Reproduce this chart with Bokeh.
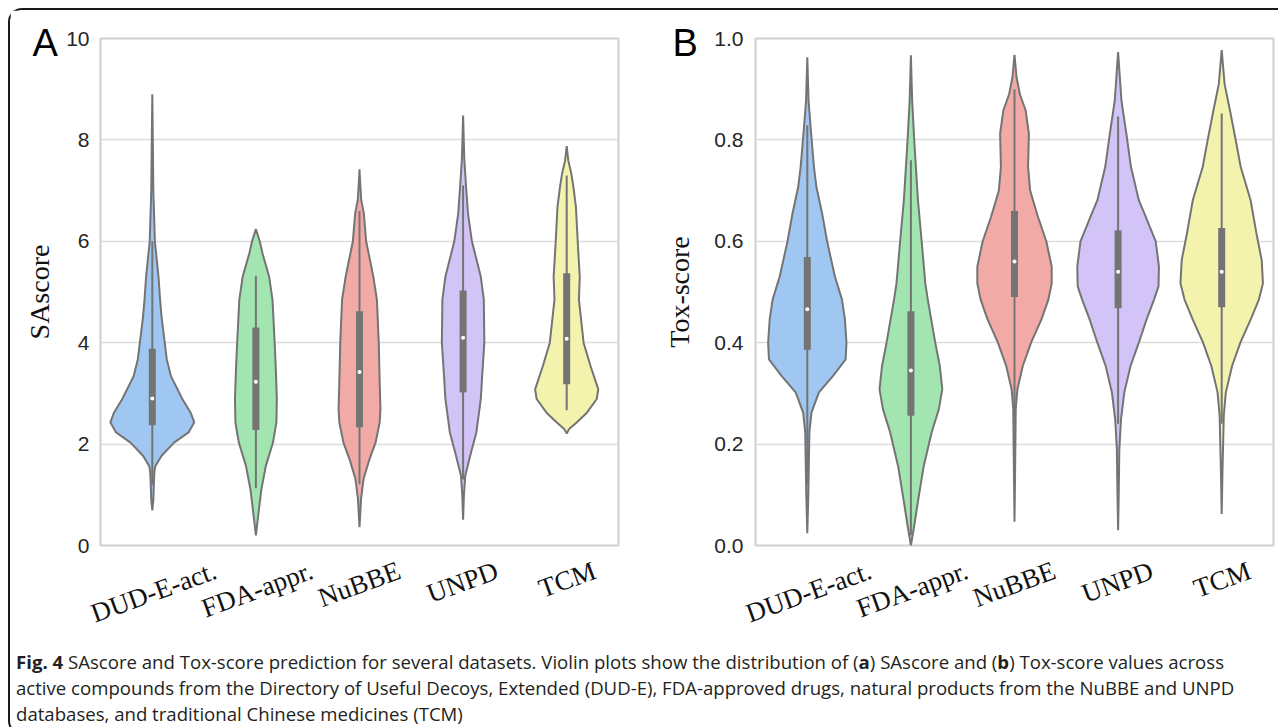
import math
from bokeh.plotting import figure
from bokeh.models import (Range1d, Div, FixedTicker, ColumnDataSource,
                          PrintfTickFormatter, Title)
from bokeh.layouts import row, column
from bokeh.embed import file_html
from bokeh.resources import INLINE

categories = ["DUD-E-act.", "FDA-appr.", "NuBBE", "UNPD", "TCM"]
colors = ["#a0c7f1", "#a2e5b0", "#f2aaa7", "#d3c4f7", "#f4f3ae"]

# ---- Panel A: SAscore violin profiles (value, half-width in category units)
sa_dud_y = [0.69, 0.9, 1.2, 1.45, 1.57, 1.77, 2.03, 2.23, 2.43, 2.62, 2.89, 3.34, 3.67, 4.0, 4.5, 4.85, 5.3, 6.0, 7.0, 8.0, 8.9]
sa_dud_w = [0.0, 0.01, 0.015, 0.02, 0.03, 0.09, 0.21, 0.35, 0.405, 0.37, 0.29, 0.18, 0.14, 0.12, 0.09, 0.075, 0.06, 0.025, 0.01, 0.005, 0.0]
sa_fda_y = [0.2, 0.66, 1.11, 1.57, 2.03, 2.43, 2.89, 3.5, 4.0, 4.85, 5.3, 5.76, 6.0, 6.24]
sa_fda_w = [0.0, 0.026, 0.053, 0.096, 0.165, 0.198, 0.202, 0.192, 0.181, 0.16, 0.128, 0.064, 0.037, 0.0]
sa_nub_y = [0.36, 0.92, 1.31, 1.7, 2.03, 2.43, 2.69, 3.2, 4.0, 4.85, 5.3, 6.0, 6.55, 6.81, 7.1, 7.42]
sa_nub_w = [0.0, 0.015, 0.039, 0.096, 0.155, 0.195, 0.202, 0.195, 0.186, 0.168, 0.134, 0.064, 0.042, 0.017, 0.008, 0.0]
sa_unpd_y = [0.51, 1.0, 1.38, 1.84, 2.23, 2.89, 3.34, 4.0, 4.85, 5.3, 6.0, 6.55, 7.07, 7.6, 8.48]
sa_unpd_w = [0.0, 0.008, 0.021, 0.077, 0.128, 0.171, 0.184, 0.205, 0.2, 0.171, 0.085, 0.047, 0.029, 0.012, 0.0]
sa_tcm_y = [2.21, 2.3, 2.43, 2.62, 2.89, 3.08, 3.54, 4.0, 4.85, 5.3, 6.0, 6.68, 7.07, 7.33, 7.6, 7.88]
sa_tcm_w = [0.0, 0.024, 0.098, 0.195, 0.29, 0.305, 0.23, 0.163, 0.118, 0.126, 0.106, 0.089, 0.065, 0.045, 0.015, 0.0]

sa_q1 = [2.37, 2.28, 2.33, 3.02, 3.18]
sa_med = [2.9, 3.23, 3.42, 4.1, 4.08]
sa_q3 = [3.88, 4.3, 4.62, 5.03, 5.37]
sa_lo = [1.2, 1.13, 1.21, 1.3, 2.67]
sa_hi = [6.0, 5.32, 6.6, 7.1, 7.3]

# ---- Panel B: Tox-score violin profiles
tx_dud_y = [0.024, 0.1, 0.223, 0.262, 0.302, 0.334, 0.367, 0.4, 0.446, 0.485, 0.53, 0.6, 0.655, 0.707, 0.747, 0.825, 0.878, 0.963]
tx_dud_w = [0.0, 0.01, 0.02, 0.04, 0.112, 0.247, 0.37, 0.378, 0.363, 0.335, 0.267, 0.191, 0.143, 0.088, 0.064, 0.032, 0.012, 0.0]
tx_fda_y = [0.0, 0.039, 0.092, 0.157, 0.223, 0.269, 0.308, 0.354, 0.4, 0.485, 0.517, 0.6, 0.681, 0.8, 0.878, 0.967]
tx_fda_w = [0.0, 0.032, 0.072, 0.124, 0.2, 0.27, 0.303, 0.279, 0.235, 0.163, 0.139, 0.104, 0.068, 0.032, 0.012, 0.0]
tx_nub_y = [0.047, 0.15, 0.269, 0.308, 0.354, 0.4, 0.446, 0.485, 0.517, 0.55, 0.6, 0.648, 0.7, 0.747, 0.812, 0.858, 0.89, 0.923, 0.968]
tx_nub_w = [0.0, 0.006, 0.012, 0.028, 0.08, 0.16, 0.26, 0.327, 0.359, 0.359, 0.307, 0.227, 0.151, 0.131, 0.139, 0.108, 0.052, 0.02, 0.0]
tx_unpd_y = [0.03, 0.1, 0.19, 0.249, 0.302, 0.354, 0.4, 0.446, 0.485, 0.511, 0.55, 0.6, 0.648, 0.681, 0.747, 0.812, 0.878, 0.973]
tx_unpd_w = [0.0, 0.006, 0.012, 0.028, 0.06, 0.12, 0.2, 0.275, 0.347, 0.39, 0.394, 0.363, 0.267, 0.2, 0.124, 0.08, 0.032, 0.0]
tx_tcm_y = [0.062, 0.15, 0.256, 0.302, 0.354, 0.4, 0.446, 0.485, 0.517, 0.563, 0.616, 0.681, 0.747, 0.8, 0.858, 0.91, 0.977]
tx_tcm_w = [0.0, 0.008, 0.02, 0.04, 0.1, 0.18, 0.28, 0.359, 0.398, 0.386, 0.335, 0.279, 0.183, 0.135, 0.08, 0.028, 0.0]

tx_q1 = [0.386, 0.256, 0.49, 0.468, 0.47]
tx_med = [0.466, 0.345, 0.56, 0.54, 0.54]
tx_q3 = [0.569, 0.462, 0.66, 0.622, 0.626]
tx_lo = [0.12, 0.02, 0.24, 0.24, 0.24]
tx_hi = [0.829, 0.76, 0.9, 0.846, 0.852]

sa_ticks = [0, 2, 4, 6, 8, 10]
tx_ticks = [0.0, 0.2, 0.4, 0.6, 0.8, 1.0]

caption = ("<b>Fig. 4</b> SAscore and Tox-score prediction for several datasets. Violin plots show the distribution of "
           "(<b>a</b>) SAscore and (<b>b</b>) Tox-score values across<br>active compounds from the Directory of Useful "
           "Decoys, Extended (DUD-E), FDA-approved drugs, natural products from the NuBBE and UNPD<br>databases, "
           "and traditional Chinese medicines (TCM)")

GRAY = "#747474"
FRAME_W, FRAME_H = 518, 507
# rotated tick labels are anchored at their right end: shift (px) from the category centre
LABEL_SHIFT_PX = [63, 56, 40, 34, 28]


def make_panel(letter, ylabel, ymax, ticks, fmt, profiles, q1, med, q3, lo, hi,
               border_left, border_right, letter_dx_px, ylabel_standoff, tick_standoff):
    n = len(categories)
    centers = [i + 0.5 for i in range(n)]
    p = figure(x_range=Range1d(0, n), y_range=Range1d(0, ymax),
               frame_width=FRAME_W, frame_height=FRAME_H,
               min_border_left=border_left, min_border_right=border_right,
               min_border_top=28, min_border_bottom=88,
               output_backend="svg", toolbar_location=None,
               background_fill_color="white", border_fill_color="white")
    p.outline_line_color = "#cfcfcf"
    p.outline_line_width = 2
    p.xgrid.visible = False
    p.ygrid.grid_line_color = "#dddddd"
    p.ygrid.grid_line_width = 1.5

    ax = p.yaxis[0]
    ax.ticker = FixedTicker(ticks=ticks)
    ax.formatter = PrintfTickFormatter(format=fmt)
    ax.axis_line_color = None
    ax.major_tick_line_color = None
    ax.minor_tick_line_color = None
    ax.major_label_text_font = "Liberation Sans"
    ax.major_label_text_font_size = "21px"
    ax.major_label_text_color = "#262626"
    ax.major_label_standoff = tick_standoff
    ax.axis_label = ylabel
    ax.axis_label_text_font = "Liberation Serif"
    ax.axis_label_text_font_size = "28px"
    ax.axis_label_text_font_style = "normal"
    ax.axis_label_text_color = "#111111"
    ax.axis_label_standoff = ylabel_standoff

    # category-name axis with rotated labels
    upx = n / FRAME_W
    pos = [round(c + s * upx, 4) for c, s in zip(centers, LABEL_SHIFT_PX)]
    xa = p.xaxis[0]
    xa.ticker = FixedTicker(ticks=pos)
    xa.major_label_overrides = {k: c for k, c in zip(pos, categories)}
    xa.major_label_orientation = math.radians(20)
    xa.axis_line_color = None
    xa.major_tick_line_color = None
    xa.minor_tick_line_color = None
    xa.major_label_standoff = 18
    xa.major_label_text_font = "Liberation Serif"
    xa.major_label_text_font_size = "27px"
    xa.major_label_text_color = "#111111"

    xs, ys = [], []
    for c, (vy, vw) in zip(centers, profiles):
        xs.append([c - w for w in vw] + [c + w for w in reversed(vw)])
        ys.append(list(vy) + list(reversed(vy)))
    src = ColumnDataSource(dict(xs=xs, ys=ys, color=colors))
    p.patches(xs="xs", ys="ys", fill_color="color", line_color=GRAY, line_width=2, source=src)

    p.segment(x0=centers, y0=lo, x1=centers, y1=hi, line_color=GRAY, line_width=2)
    p.segment(x0=centers, y0=q1, x1=centers, y1=q3, line_color=GRAY, line_width=7)
    p.scatter(x=centers, y=med, size=4, fill_color="white", line_color=None)

    p.title = Title(text=letter, align="left", offset=letter_dx_px, vertical_align="bottom",
                    standoff=-50, text_font="Liberation Sans", text_font_size="38px",
                    text_font_style="normal", text_color="black")
    return p


pA = make_panel("A", "SAscore", 10, sa_ticks, "%d",
                [(sa_dud_y, sa_dud_w), (sa_fda_y, sa_fda_w), (sa_nub_y, sa_nub_w),
                 (sa_unpd_y, sa_unpd_w), (sa_tcm_y, sa_tcm_w)],
                sa_q1, sa_med, sa_q3, sa_lo, sa_hi,
                border_left=90, border_right=22, letter_dx_px=-68, ylabel_standoff=8, tick_standoff=5)
pB = make_panel("B", "Tox-score", 1.0, tx_ticks, "%.1f",
                [(tx_dud_y, tx_dud_w), (tx_fda_y, tx_fda_w), (tx_nub_y, tx_nub_w),
                 (tx_unpd_y, tx_unpd_w), (tx_tcm_y, tx_tcm_w)],
                tx_q1, tx_med, tx_q3, tx_lo, tx_hi,
                border_left=115, border_right=5, letter_dx_px=-83, ylabel_standoff=16, tick_standoff=6)

cap = Div(text=caption, width=1255, height=84, margin=(4, 0, 0, 6),
          styles={"font-family": "Open Sans", "font-size": "18.6px", "line-height": "26px", "color": "#231f20"})

layout = column(row(pA, pB), cap, margin=(8, 0, 0, 8),
                styles={"border": "2px solid #1a1a1a", "border-right": "none",
                        "border-radius": "14px 0 0 14px", "background": "white"})

open("out.html", "w").write(file_html(layout, INLINE))
